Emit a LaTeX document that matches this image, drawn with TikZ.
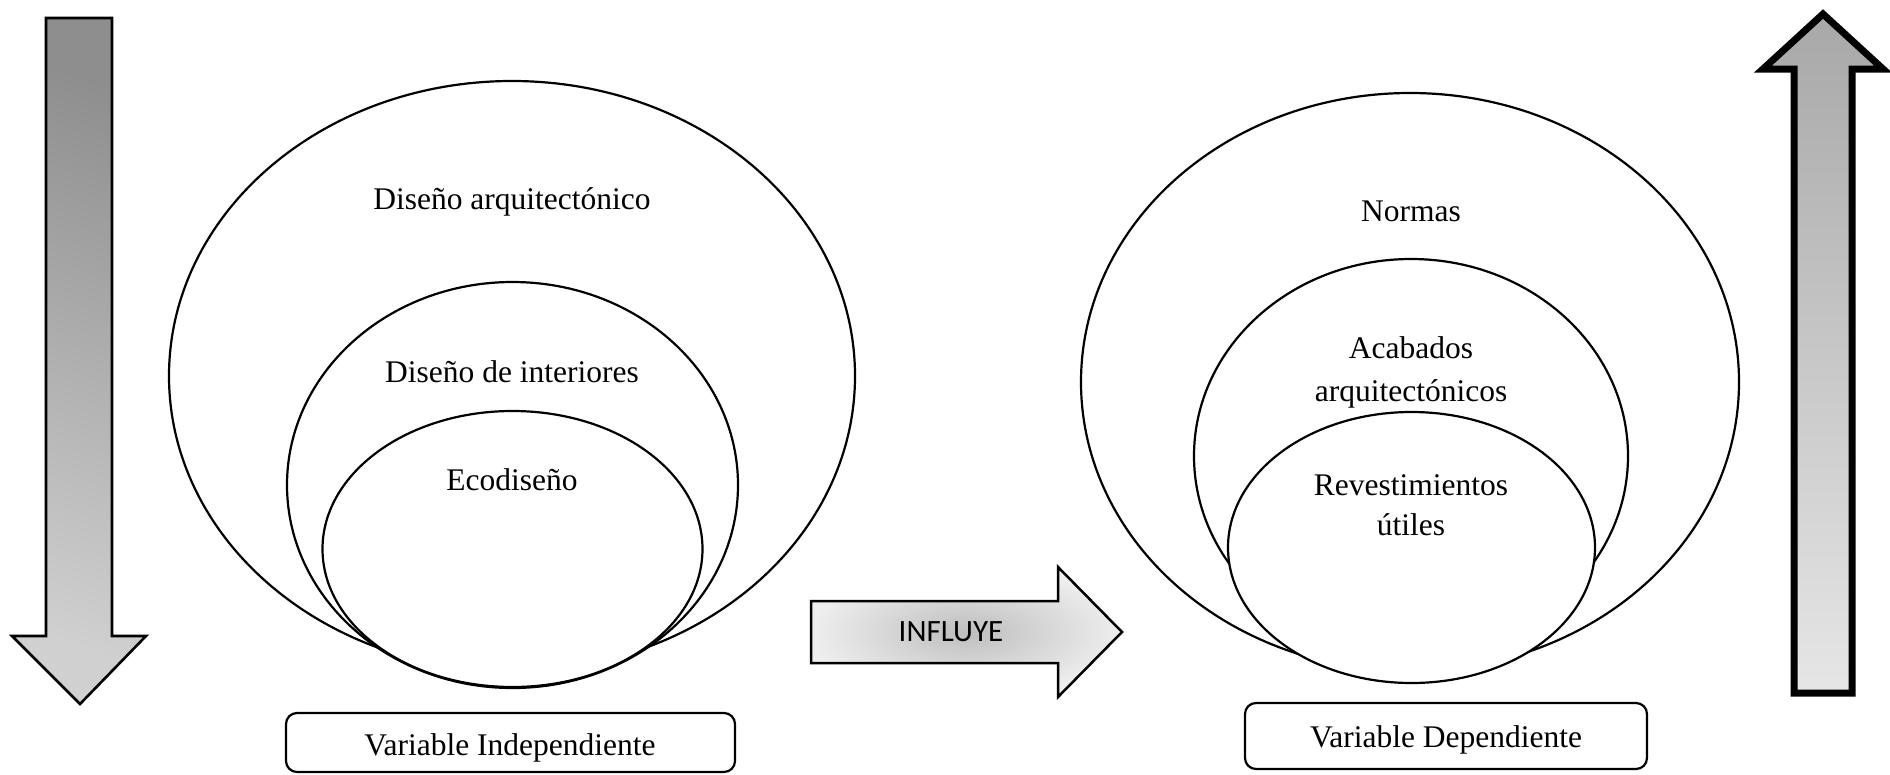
\documentclass[tikz,border=0pt]{standalone}
\usepackage{fontspec}
\setmainfont{Liberation Serif}
\newfontfamily\calibfont{Carlito}
\usetikzlibrary{shadings}
\definecolor{lgtop}{HTML}{8E8E8E}
\definecolor{lgbot}{HTML}{D0D0D0}
\definecolor{rgtop}{HTML}{A8A8A8}
\definecolor{rgbot}{HTML}{E6E6E6}
\definecolor{infin}{HTML}{BEBEBE}
\definecolor{infout}{HTML}{EEEEEE}
\begin{document}
\begin{tikzpicture}[x=1pt,y=-1pt,
  ring/.style={draw=black,fill=white,line width=2.2pt},
  lbl/.style={inner sep=0pt,anchor=base,font=\fontsize{31.5}{38}\selectfont},
  varbox/.style={draw=black,line width=2.2pt,rounded corners=11pt,fill=white}]
\useasboundingbox (0,0) rectangle (1890,774);
\fill[white] (0,0) rectangle (1890,774);

% left down arrow
\draw[line width=2.6pt,line join=miter,top color=lgtop,bottom color=lgbot,shading angle=-20]
  (46,18) -- (112,18) -- (112,636) -- (146,636) -- (80,704) -- (12,636) -- (46,636) -- cycle;

% right up arrow
\draw[line width=7pt,line join=miter,top color=rgtop,bottom color=rgbot]
  (1794,693) -- (1794,69) -- (1763,69) -- (1823,14) -- (1883,69) -- (1852,69) -- (1852,693) -- cycle;

% influye arrow
\draw[line width=2.5pt,line join=miter,inner color=infin,outer color=infout]
  (811,601) -- (1058,601) -- (1058,567) -- (1122,632) -- (1058,697) -- (1058,663) -- (811,663) -- cycle;
\node[inner sep=0pt,anchor=base,font=\calibfont\fontsize{31}{36}\selectfont] (inf) at (951,641) {INFLUYE};

% left ellipses
\draw[ring] (512,376) ellipse [x radius=343, y radius=295];
\draw[ring] (512.5,485) ellipse [x radius=225.5, y radius=203];
\draw[ring] (512.5,549) ellipse [x radius=190, y radius=138];
\node[lbl] (d1) at (512,209) {Diseño arquitectónico};
\node[lbl] (d2) at (512,382) {Diseño de interiores};
\node[lbl] (d3) at (512,490) {Ecodiseño};

% right ellipses
\draw[ring] (1410,382) ellipse [x radius=329, y radius=289];
\draw[ring] (1411,456) ellipse [x radius=217, y radius=197];
\draw[ring] (1411.5,547.5) ellipse [x radius=183.5, y radius=135.5];
\node[lbl] (n1) at (1411,221) {Normas};
\node[lbl] (n2a) at (1411,358) {Acabados};
\node[lbl] (n2b) at (1411,401) {arquitectónicos};
\node[lbl] (n3a) at (1411,495) {Revestimientos};
\node[lbl] (n3b) at (1411,535) {útiles};

% boxes
\draw[varbox] (286,713) rectangle (735,772);
\node[lbl] (vi) at (510,755) {Variable Independiente};
\draw[varbox] (1245,703) rectangle (1647,769);
\node[lbl] (vd) at (1446,747) {Variable Dependiente};
\end{tikzpicture}
\end{document}
